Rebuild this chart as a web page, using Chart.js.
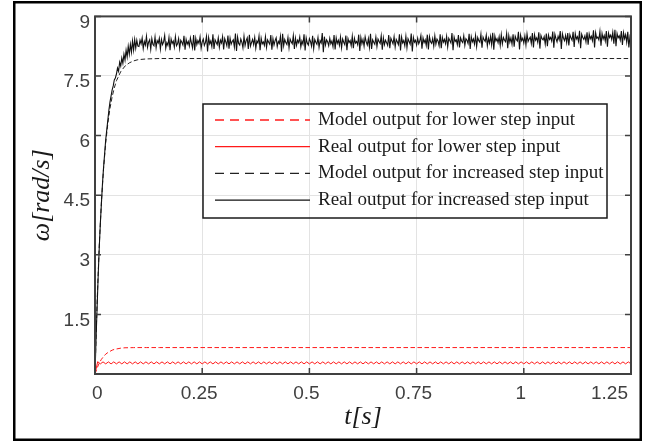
<!DOCTYPE html>
<html>
<head>
<meta charset="utf-8">
<script src="https://cdn.jsdelivr.net/npm/chart.js@4.4.0/dist/chart.umd.min.js"></script>
<style>
  body { margin: 0; background: #fff; }
</style>
</head>
<body>
<canvas id="myChart" width="645" height="443"></canvas>
<script>
//DATI
// tempi e valori del modello (curve lisce)
const tModel = [0, 0.005, 0.01, 0.015, 0.02, 0.025, 0.03, 0.035, 0.04, 0.045, 0.05, 0.06, 0.07, 0.08, 0.09, 0.1, 0.12, 0.15, 1.25];
const modelLow = [0, 0.15, 0.28, 0.37, 0.44, 0.50, 0.54, 0.57, 0.60, 0.62, 0.63, 0.65, 0.66, 0.662, 0.664, 0.665, 0.665, 0.665, 0.665];
const modelHigh = [0, 1.84, 3.25, 4.34, 5.18, 5.82, 6.31, 6.69, 6.98, 7.20, 7.38, 7.61, 7.75, 7.83, 7.88, 7.91, 7.93, 7.94, 7.94];

// uscita reale, gradino aumentato (passo di campionamento dtHigh)
const dtHigh = 0.0025;
const realHigh = [
  0, 0.9, 1.7, 2.5, 3.2, 3.8, 4.3, 4.8, 5.2, 5.55, 5.9, 6.15, 6.4, 6.65, 6.85, 7.0, 7.15, 7.25, 7.4, 7.45,
  7.55, 7.7, 7.62, 7.85, 7.75, 7.95, 7.82, 8.05, 7.9, 8.15, 7.98, 8.25, 8.05, 8.3, 8.1, 8.38, 8.15, 8.42, 8.2, 8.4, 8.25,
  8.24, 8.40, 8.31, 8.46, 8.19, 8.37, 8.28, 8.50, 8.22, 8.35, 8.41, 8.17, 8.44, 8.30, 8.26, 8.48, 8.21, 8.39, 8.33, 8.45,
  8.18, 8.42, 8.29, 8.36, 8.52, 8.20, 8.34, 8.27, 8.47, 8.15, 8.43, 8.32, 8.38, 8.23, 8.49, 8.26, 8.31, 8.44, 8.19, 8.40,
  8.35, 8.28, 8.51, 8.16, 8.42, 8.30, 8.37, 8.25, 8.46, 8.33, 8.21, 8.53, 8.14, 8.45, 8.29, 8.39, 8.32, 8.48, 8.20, 8.36,
  8.43, 8.27, 8.34, 8.50, 8.12, 8.47, 8.31, 8.38, 8.24, 8.55, 8.18, 8.41, 8.35, 8.29, 8.46, 8.22, 8.40, 8.33, 8.49, 8.17,
  8.44, 8.36, 8.26, 8.52, 8.19, 8.45, 8.30, 8.37, 8.41, 8.23, 8.57, 8.13, 8.48, 8.32, 8.28, 8.43, 8.35, 8.21, 8.50, 8.27,
  8.39, 8.46, 8.18, 8.54, 8.25, 8.34, 8.42, 8.29, 8.47, 8.20, 8.38, 8.33, 8.51, 8.15, 8.45, 8.31, 8.36, 8.27, 8.49, 8.22,
  8.41, 8.35, 8.30, 8.53, 8.16, 8.44, 8.28, 8.39, 8.46, 8.24, 8.37, 8.32, 8.50, 8.11, 8.56, 8.26, 8.42, 8.34, 8.29, 8.47,
  8.21, 8.43, 8.36, 8.31, 8.52, 8.18, 8.45, 8.27, 8.40, 8.34, 8.48, 8.23, 8.38, 8.30, 8.55, 8.14, 8.46, 8.33, 8.28, 8.44,
  8.37, 8.25, 8.51, 8.19, 8.42, 8.35, 8.30, 8.47, 8.22, 8.39, 8.33, 8.58, 8.10, 8.49, 8.28, 8.41, 8.36, 8.26, 8.45, 8.31,
  8.38, 8.24, 8.53, 8.17, 8.46, 8.32, 8.40, 8.27, 8.48, 8.21, 8.43, 8.35, 8.29, 8.52, 8.15, 8.44, 8.34, 8.39, 8.26, 8.50,
  8.20, 8.45, 8.33, 8.37, 8.29, 8.54, 8.13, 8.47, 8.31, 8.42, 8.25, 8.49, 8.36, 8.28, 8.44, 8.22, 8.56, 8.18, 8.41, 8.35,
  8.30, 8.48, 8.24, 8.43, 8.37, 8.32, 8.51, 8.16, 8.46, 8.29, 8.40, 8.34, 8.27, 8.53, 8.20, 8.45, 8.38, 8.31, 8.49, 8.23,
  8.42, 8.36, 8.29, 8.55, 8.14, 8.48, 8.33, 8.39, 8.26, 8.50, 8.21, 8.44, 8.37, 8.30, 8.57, 8.12, 8.47, 8.35, 8.40, 8.28,
  8.45, 8.31, 8.38, 8.52, 8.19, 8.46, 8.34, 8.41, 8.27, 8.54, 8.17, 8.49, 8.36, 8.32, 8.44, 8.25, 8.51, 8.30, 8.43, 8.38,
  8.26, 8.55, 8.20, 8.47, 8.35, 8.42, 8.31, 8.50, 8.23, 8.45, 8.39, 8.33, 8.58, 8.15, 8.48, 8.37, 8.41, 8.29, 8.53, 8.22,
  8.46, 8.38, 8.34, 8.51, 8.27, 8.44, 8.40, 8.32, 8.56, 8.18, 8.49, 8.36, 8.43, 8.30, 8.52, 8.24, 8.47, 8.39, 8.35, 8.55,
  8.21, 8.48, 8.41, 8.37, 8.53, 8.26, 8.45, 8.33, 8.50, 8.29, 8.59, 8.16, 8.51, 8.38, 8.44, 8.34, 8.49, 8.27, 8.54, 8.31,
  8.47, 8.40, 8.36, 8.57, 8.20, 8.52, 8.35, 8.46, 8.30, 8.55, 8.24, 8.50, 8.42, 8.38, 8.61, 8.17, 8.53, 8.39, 8.45, 8.33,
  8.51, 8.28, 8.56, 8.37, 8.43, 8.48, 8.32, 8.58, 8.22, 8.54, 8.40, 8.46, 8.35, 8.60, 8.19, 8.52, 8.44, 8.41, 8.49, 8.30,
  8.57, 8.25, 8.53, 8.42, 8.47, 8.38, 8.62, 8.21, 8.55, 8.44, 8.36, 8.50, 8.41, 8.63, 8.18, 8.56, 8.45, 8.39, 8.52, 8.34,
  8.58, 8.27, 8.54, 8.46, 8.40, 8.61, 8.23, 8.57, 8.43, 8.49, 8.37, 8.64, 8.20, 8.55, 8.47, 8.42, 8.51, 8.36, 8.60, 8.29,
  8.56, 8.44, 8.50, 8.39, 8.65, 8.22, 8.59, 8.45, 8.48, 8.41, 8.62, 8.26, 8.57, 8.43, 8.52, 8.38, 8.63, 8.24, 8.58, 8.47,
  8.53, 8.42, 8.60, 8.31, 8.66, 8.25, 8.57, 8.46, 8.51, 8.40, 8.63, 8.28, 8.59, 8.44, 8.54, 8.35, 8.61, 8.22, 8.48, 8.36
];

// uscita reale, gradino basso (passo di campionamento dtLow)
const dtLow = 0.00625;
const realLow = [
  0, 0.31, 0.255, 0.305, 0.255, 0.305, 0.255, 0.305, 0.255, 0.305,
  0.255, 0.305, 0.255, 0.305, 0.255, 0.305, 0.255, 0.305, 0.255, 0.305,
  0.255, 0.305, 0.255, 0.305, 0.255, 0.305, 0.255, 0.305, 0.255, 0.305,
  0.255, 0.305, 0.255, 0.305, 0.255, 0.305, 0.255, 0.305, 0.255, 0.305,
  0.255, 0.305, 0.255, 0.305, 0.255, 0.305, 0.255, 0.305, 0.255, 0.305,
  0.255, 0.305, 0.255, 0.305, 0.255, 0.305, 0.255, 0.305, 0.255, 0.305,
  0.255, 0.305, 0.255, 0.305, 0.255, 0.305, 0.255, 0.305, 0.255, 0.305,
  0.255, 0.305, 0.255, 0.305, 0.255, 0.305, 0.255, 0.305, 0.255, 0.305,
  0.255, 0.305, 0.255, 0.305, 0.255, 0.305, 0.255, 0.305, 0.255, 0.305,
  0.255, 0.305, 0.255, 0.305, 0.255, 0.305, 0.255, 0.305, 0.255, 0.305,
  0.255, 0.305, 0.255, 0.305, 0.255, 0.305, 0.255, 0.305, 0.255, 0.305,
  0.255, 0.305, 0.255, 0.305, 0.255, 0.305, 0.255, 0.305, 0.255, 0.305,
  0.255, 0.305, 0.255, 0.305, 0.255, 0.305, 0.255, 0.305, 0.255, 0.305,
  0.255, 0.305, 0.255, 0.305, 0.255, 0.305, 0.255, 0.305, 0.255, 0.305,
  0.255, 0.305, 0.255, 0.305, 0.255, 0.305, 0.255, 0.305, 0.255, 0.305,
  0.255, 0.305, 0.255, 0.305, 0.255, 0.305, 0.255, 0.305, 0.255, 0.305,
  0.255, 0.305, 0.255, 0.305, 0.255, 0.305, 0.255, 0.305, 0.255, 0.305,
  0.255, 0.305, 0.255, 0.305, 0.255, 0.305, 0.255, 0.305, 0.255, 0.305,
  0.255, 0.305, 0.255, 0.305, 0.255, 0.305, 0.255, 0.305, 0.255, 0.305,
  0.255, 0.305, 0.255, 0.305, 0.255, 0.305, 0.255, 0.305, 0.255, 0.305,
  0.255
];

const legendLabels = [
  'Model output for lower step input',
  'Real output for lower step input',
  'Model output for increased step input',
  'Real output for increased step input'
];
//------------------------------------------------------------------------

//COSTRUZIONE PUNTI
const pts = (ts, ys) => ys.map((v, i) => ({x: ts[i], y: v}));
const tHigh = realHigh.map((_, i) => i * dtHigh);
const tLow = realLow.map((_, i) => i * dtLow);

//PLUGIN: riquadro, tacche interne, cornice esterna, legenda
const cornice = {
  id: 'cornice',
  afterDatasetsDraw(chart) {
    const {ctx, chartArea: a, scales: {x, y}} = chart;
    ctx.save();
    // tacche verso l'interno su tutti i lati
    ctx.strokeStyle = '#404040';
    ctx.lineWidth = 1.5;
    ctx.beginPath();
    for (const t of x.ticks) {
      const p = x.getPixelForValue(t.value);
      ctx.moveTo(p, a.bottom); ctx.lineTo(p, a.bottom - 6);
      ctx.moveTo(p, a.top); ctx.lineTo(p, a.top + 6);
    }
    for (const t of y.ticks) {
      const p = y.getPixelForValue(t.value);
      ctx.moveTo(a.left, p); ctx.lineTo(a.left + 6, p);
      ctx.moveTo(a.right, p); ctx.lineTo(a.right - 6, p);
    }
    ctx.stroke();
    // riquadro degli assi
    ctx.lineWidth = 2;
    ctx.strokeRect(a.left, a.top, a.right - a.left, a.bottom - a.top);
    // cornice esterna
    ctx.strokeStyle = '#000';
    ctx.lineWidth = 2.5;
    ctx.strokeRect(14.25, 2.25, 626.5, 437.5);

    // legenda (trasparente, bordo scuro)
    ctx.strokeStyle = '#1a1a1a';
    ctx.lineWidth = 1.5;
    ctx.strokeRect(203, 104, 404, 114);
    ctx.font = '19px "Liberation Serif"';
    ctx.textBaseline = 'middle';
    ctx.fillStyle = '#1a1a1a';
    chart.data.datasets.forEach((ds, i) => {
      const yy = 120 + i * 26.7;
      ctx.strokeStyle = ds.borderColor;
      ctx.lineWidth = ds.borderWidth + 0.3;
      ctx.setLineDash(ds.borderDash ? [9, 6] : []);
      ctx.beginPath();
      ctx.moveTo(215, yy); ctx.lineTo(310, yy);
      ctx.stroke();
      ctx.setLineDash([]);
      ctx.fillText(ds.label, 318, yy);
    });
    ctx.restore();
  }
};

//CREAZIONE GRAFICO
new Chart(document.getElementById('myChart'), {
  type: 'line',
  data: {
    datasets: [
      {label: legendLabels[0], data: pts(tModel, modelLow), borderColor: '#ff1a1a', borderWidth: 1, borderDash: [4.5, 2.5], order: 3},
      {label: legendLabels[1], data: pts(tLow, realLow), borderColor: '#ff1a1a', borderWidth: 1, order: 2},
      {label: legendLabels[2], data: pts(tModel, modelHigh), borderColor: '#222', borderWidth: 1, borderDash: [4.5, 2.5], order: 1},
      {label: legendLabels[3], data: pts(tHigh, realHigh), borderColor: '#111', borderWidth: 1.1, order: 0}
    ]
  },
  options: {
    responsive: false,
    animation: false,
    parsing: false,
    layout: {padding: {top: 12, right: 14, left: 0, bottom: 0}},
    elements: {point: {radius: 0}, line: {tension: 0}},
    plugins: {legend: {display: false}, tooltip: {enabled: false}},
    scales: {
      x: {
        type: 'linear', min: 0, max: 1.25,
        afterFit: s => { s.height = 69; },
        grid: {color: '#e3e3e3', lineWidth: 1, drawTicks: false},
        border: {display: false},
        ticks: {
          stepSize: 0.25, align: 'inner', labelOffset: -3, padding: 8, autoSkip: false, maxRotation: 0,
          color: '#404040', font: {family: 'Liberation Sans', size: 19},
          callback: v => String(v)
        },
        title: {display: true, text: 't[s]', color: '#1a1a1a', padding: {top: 0, bottom: 10},
                font: {family: 'Liberation Serif', style: 'italic', size: 26}}
      },
      y: {
        type: 'linear', min: 0, max: 9,
        afterFit: s => { s.width = 95; },
        grid: {color: '#e3e3e3', lineWidth: 1, drawTicks: false},
        border: {display: false},
        ticks: {
          stepSize: 1.5, labelOffset: 6, padding: 5,
          color: '#404040', font: {family: 'Liberation Sans', size: 19},
          callback: v => v === 0 ? '' : String(v)
        },
        title: {display: true, text: 'ω[rad/s]', color: '#1a1a1a', padding: {top: 27, bottom: 0},
                font: {family: 'Liberation Serif', style: 'italic', size: 26}}
      }
    }
  },
  plugins: [cornice]
});
//-------------------------------------------------------------------------
</script>
</body>
</html>
